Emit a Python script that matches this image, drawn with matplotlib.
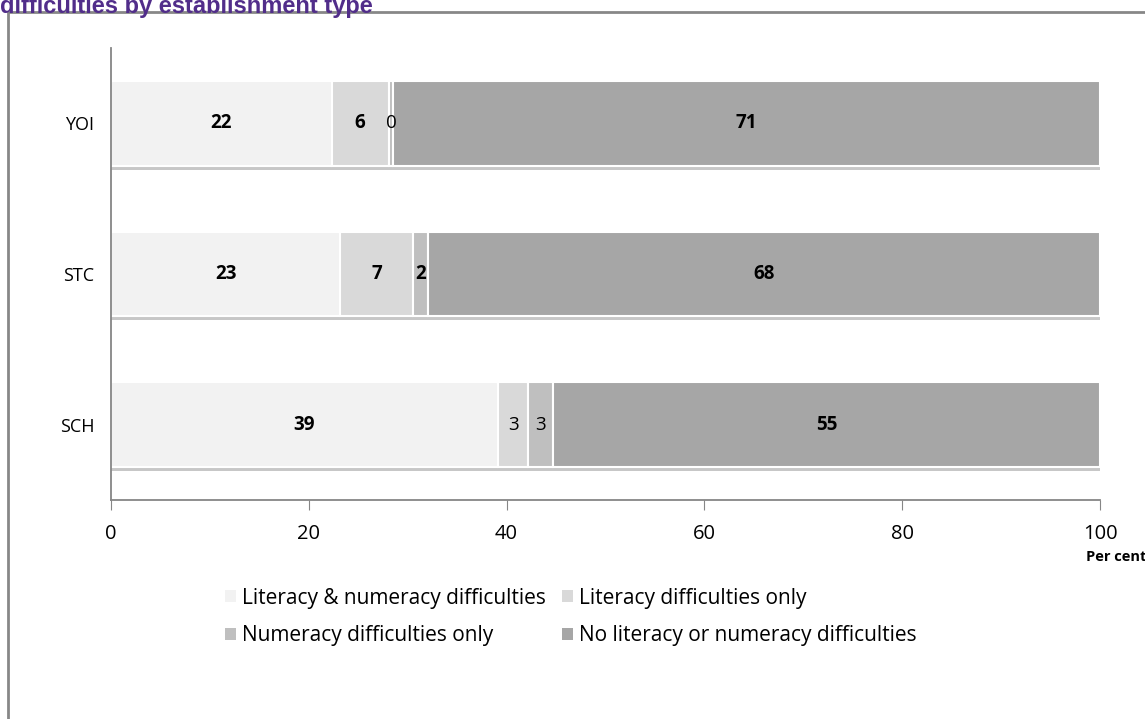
import matplotlib.pyplot as plt
from matplotlib.patches import Patch, Rectangle
import matplotlib.patheffects as pe

plt.rcParams['font.family'] = ['Open Sans', 'DejaVu Sans']

# data (top to bottom in picture)
establishments = ['YOI', 'STC', 'SCH']
both_difficulties = [22.3, 23.2, 39.1]
literacy_only = [5.8, 7.3, 3.1]
numeracy_only = [0.4, 1.6, 2.5]
no_difficulties = [71.5, 67.9, 55.3]
shown_values = [[22, 6, 0, 71], [23, 7, 2, 68], [39, 3, 3, 55]]
bold_flags = [[True, True, False, True], [True, True, True, True], [True, False, False, True]]

series_names = ['Literacy & numeracy difficulties', 'Literacy difficulties only',
                'Numeracy difficulties only', 'No literacy or numeracy difficulties']
colours = ['#F2F2F2', '#D9D9D9', '#BFBFBF', '#A6A6A6']
axis_grey = '#868686'

fig = plt.figure(figsize=(11.45, 7.19), dpi=100)
ax = fig.add_axes([111 / 1145, 1 - 500 / 719, (1100 - 111) / 1145, 452 / 719])

ypos = [2, 1, 0]
series = [both_difficulties, literacy_only, numeracy_only, no_difficulties]
left = [0, 0, 0]
shadow = [pe.SimplePatchShadow(offset=(0, -3), shadow_rgbFace='#909090', alpha=0.5), pe.Normal()]
for s, (vals, col) in enumerate(zip(series, colours)):
    bars = ax.barh(ypos, vals, left=left, height=0.56, color=col, edgecolor='white',
                   linewidth=1.5, zorder=2)
    for b in bars:
        b.set_path_effects(shadow)
    for i, (v, l) in enumerate(zip(vals, left)):
        ax.text(l + v / 2, ypos[i], str(shown_values[i][s]), ha='center', va='center',
                fontsize=13.5, fontweight='bold' if bold_flags[i][s] else 'normal',
                color='black', zorder=4)
    left = [l + v for l, v in zip(left, vals)]

ax.set_xlim(0, 100)
ax.set_ylim(-0.5, 2.5)
ax.set_xticks([0, 20, 40, 60, 80, 100])
ax.set_yticks(ypos)
ax.set_yticklabels(establishments)
ax.tick_params(axis='x', length=7, color=axis_grey, labelsize=14.5, pad=10)
ax.tick_params(axis='y', length=0, labelsize=13, pad=12)
for side in ['top', 'right']:
    ax.spines[side].set_visible(False)
for side in ['left', 'bottom']:
    ax.spines[side].set_color(axis_grey)
    ax.spines[side].set_linewidth(1.3)

fig.text(1086 / 1145, 1 - 557 / 719, 'Per cent', ha='left', va='center',
         fontsize=10.5, fontweight='bold')

# outer frame, cut at right and bottom
fig.patches.append(Rectangle((8 / 1145, -0.05), 1.2, 1 - 12 / 719 + 0.05,
                             transform=fig.transFigure, fill=False,
                             edgecolor='#878787', linewidth=2))

fig.text(0.0, 1 - 13 / 719, 'difficulties by establishment type', ha='left',
         va='baseline', fontsize=17, fontweight='bold', color='#512D8A',
         family=['Liberation Sans', 'DejaVu Sans'])

handles = [Patch(facecolor=c, edgecolor='none') for c in colours]
order = [0, 2, 1, 3]
fig.legend([handles[k] for k in order], [series_names[k] for k in order], ncol=2,
           loc='center', bbox_to_anchor=(571 / 1145, 1 - 617 / 719), frameon=False,
           fontsize=15, handlelength=0.5, handleheight=0.5, handletextpad=0.3,
           columnspacing=0.8, labelspacing=0.8)

fig.savefig('out.png', dpi=100)
